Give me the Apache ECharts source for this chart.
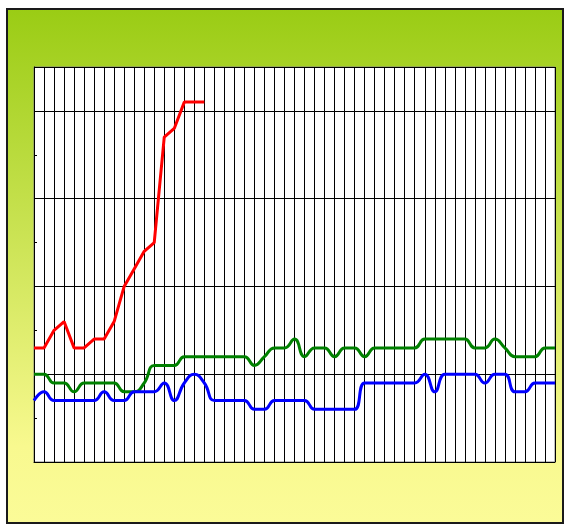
<!DOCTYPE html>
<html>
<head>
<meta charset="utf-8">
<script src="https://cdn.jsdelivr.net/npm/echarts@6/dist/echarts.min.js"></script>
<style>
  html, body { margin: 0; padding: 0; background: #fff; }
  #chart { width: 565px; height: 525px; }
</style>
</head>
<body>
<div id="chart"></div>
<script>
// categories along the x axis (no labels shown in the original)
const categories = [
  1, 2, 3, 4, 5, 6, 7, 8, 9, 10, 11, 12, 13, 14, 15, 16, 17, 18, 19, 20,
  21, 22, 23, 24, 25, 26, 27, 28, 29, 30, 31, 32, 33, 34, 35, 36, 37, 38, 39, 40,
  41, 42, 43, 44, 45, 46, 47, 48, 49, 50, 51, 52, 53
];

// red series stops after the 18th point
const red_values = [
  13, 13, 15, 16, 13, 13, 14, 14, 16, 20, 22, 24, 25, 37, 38, 41, 41, 41
];

const green_values = [
  10, 10, 9, 9, 8, 9, 9, 9, 9, 8, 8, 9, 11, 11, 11, 12, 12, 12, 12, 12,
  12, 12, 11, 12, 13, 13, 14, 12, 13, 13, 12, 13, 13, 12, 13, 13, 13, 13, 13, 14,
  14, 14, 14, 14, 13, 13, 14, 13, 12, 12, 12, 13, 13
];

const blue_values = [
  7, 8, 7, 7, 7, 7, 7, 8, 7, 7, 8, 8, 8, 9, 7, 9, 10, 9, 7, 7,
  7, 7, 6, 6, 7, 7, 7, 7, 6, 6, 6, 6, 6, 9, 9, 9, 9, 9, 9, 10,
  8, 10, 10, 10, 10, 9, 10, 10, 8, 8, 9, 9, 9
];

const y_min = 0;
const y_max = 45;

const chart = echarts.init(document.getElementById("chart"));

chart.setOption({
  animation: false,
  backgroundColor: "#fff",
  graphic: [
    {
      type: "rect",
      z: -100,
      shape: { x: 7, y: 9, width: 556, height: 514 },
      style: {
        fill: new echarts.graphic.LinearGradient(0, 0, 0, 1, [
          { offset: 0, color: "#9acc14" },
          { offset: 0.85, color: "#f8f98f" },
          { offset: 1, color: "#fbfb98" },
        ]),
        stroke: "#1a1a1a",
        lineWidth: 2,
      },
    },
  ],
  grid: {
    left: 34,
    top: 67,
    width: 521,
    height: 395,
    show: true,
    backgroundColor: "#fff",
    borderColor: "#808080",
    borderWidth: 1,
  },
  xAxis: {
    type: "category",
    boundaryGap: false,
    data: categories,
    axisLine: { lineStyle: { color: "#000", width: 1 } },
    axisTick: { show: false },
    axisLabel: { show: false },
    splitLine: {
      show: true,
      interval: 0,
      lineStyle: { color: "#000", width: 1 },
    },
  },
  yAxis: [
    {
      type: "value",
      min: y_min,
      max: y_max,
      interval: 5,
      axisLine: { show: true, lineStyle: { color: "#000", width: 1 } },
      axisTick: { show: true, inside: true, length: 3, lineStyle: { color: "#000" } },
      axisLabel: { show: false },
      splitLine: { show: false },
    },
    {
      type: "value",
      position: "left",
      min: y_min,
      max: y_max,
      interval: 10,
      axisLine: { show: false },
      axisTick: { show: false },
      axisLabel: { show: false },
      splitLine: { show: true, lineStyle: { color: "#000", width: 1 } },
    },
  ],
  series: [
    {
      name: "Red",
      type: "line",
      yAxisIndex: 0,
      data: red_values,
      showSymbol: false,
      smooth: false,
      lineStyle: { color: "#ff0000", width: 3 },
      itemStyle: { color: "#ff0000" },
    },
    {
      name: "Green",
      type: "line",
      yAxisIndex: 0,
      data: green_values,
      showSymbol: false,
      smooth: 0.5,
      lineStyle: { color: "#008000", width: 3 },
      itemStyle: { color: "#008000" },
    },
    {
      name: "Blue",
      type: "line",
      yAxisIndex: 0,
      data: blue_values,
      showSymbol: false,
      smooth: 0.5,
      lineStyle: { color: "#0000ff", width: 3 },
      itemStyle: { color: "#0000ff" },
    },
  ],
});
</script>
</body>
</html>
